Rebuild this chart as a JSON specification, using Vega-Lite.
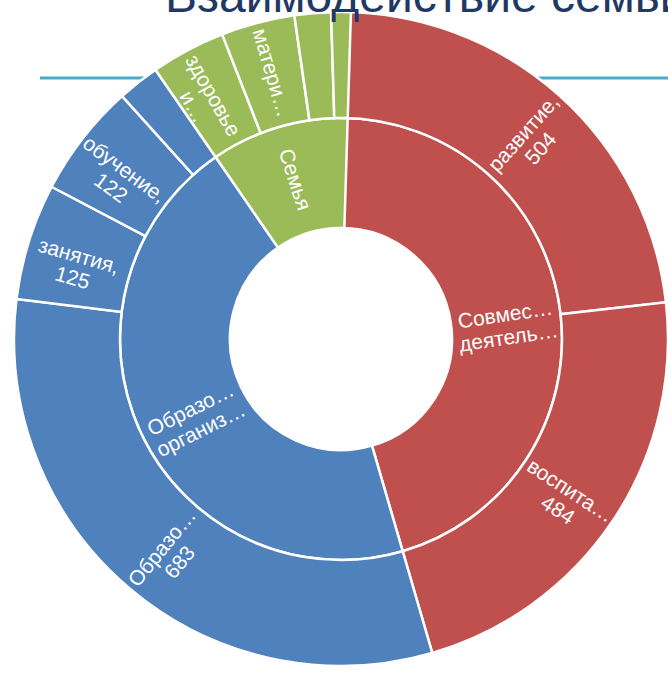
{
  "$schema": "https://vega.github.io/schema/vega-lite/v6.json",
  "width": 654,
  "height": 666,
  "autosize": {"type": "none"},
  "padding": {"left": 14, "top": 6, "right": 0, "bottom": 1},
  "background": "white",
  "title": {
    "text": "Взаимодействие семьи",
    "anchor": "start",
    "frame": "group",
    "dx": 151,
    "dy": -44,
    "fontSize": 48,
    "font": "Liberation Sans",
    "fontWeight": "normal",
    "color": "#1F3864",
    "baseline": "top",
    "offset": -60
  },
  "config": {"view": {"stroke": null}},
  "data": {
    "values": [
      {"group": "Совмес… деятель…", "label": "развитие, 504", "value": 504},
      {"group": "Совмес… деятель…", "label": "воспита… 484", "value": 484},
      {"group": "Образо… организ…", "label": "Образо… 683", "value": 683},
      {"group": "Образо… организ…", "label": "занятия, 125", "value": 125},
      {"group": "Образо… организ…", "label": "обучение, 122", "value": 122},
      {"group": "Образо… организ…", "label": "", "value": 45},
      {"group": "Семья", "label": "здоровье и…", "value": 80},
      {"group": "Семья", "label": "матери…", "value": 79},
      {"group": "Семья", "label": "", "value": 39},
      {"group": "Семья", "label": "", "value": 21}
    ]
  },
  "layer": [
    {
      "data": {"values": [{}]},
      "mark": {"type": "rule", "color": "#4BACC6", "strokeWidth": 3},
      "encoding": {
        "x": {"datum": 26, "type": "quantitative", "scale": {"domain": [0, 654], "nice": false, "zero": false}, "axis": null},
        "x2": {"datum": 654},
        "y": {"datum": 594, "type": "quantitative", "scale": {"domain": [0, 666], "nice": false, "zero": false}, "axis": null}
      }
    },
    {
      "transform": [
        {"aggregate": [{"op": "sum", "field": "value", "as": "value"}], "groupby": ["group"]},
        {"joinaggregate": [{"op": "sum", "field": "value", "as": "total"}]},
        {"stack": "value", "groupby": [], "sort": [{"field": "value", "order": "descending"}], "as": ["t0", "t1"]},
        {"calculate": "(datum.t0 + datum.t1) / 2", "as": "mid"},
        {"calculate": "datum.mid / datum.total * 360 < 180 ? datum.mid / datum.total * 360 - 90 : datum.mid / datum.total * 360 + 90", "as": "ang"}
      ],
      "layer": [
        {
          "mark": {"type": "arc", "innerRadius": 111, "outerRadius": 221, "stroke": "white", "strokeWidth": 2.5},
          "encoding": {
            "theta": {"field": "t0", "type": "quantitative", "stack": null, "scale": {"nice": false, "zero": true}},
            "theta2": {"field": "t1"},
            "color": {
              "field": "group",
              "type": "nominal",
              "scale": {"domain": ["Совмес… деятель…", "Образо… организ…", "Семья"], "range": ["#C0504D", "#4F81BD", "#9BBB59"]},
              "legend": null
            }
          }
        },
        {
          "mark": {"type": "text", "radius": 166, "fill": "white", "fontSize": 21, "font": "Liberation Sans", "lineBreak": " ", "lineHeight": 23, "align": "center", "baseline": "middle"},
          "encoding": {
            "theta": {"field": "mid", "type": "quantitative", "stack": null},
            "angle": {"field": "ang", "type": "quantitative", "scale": null},
            "text": {"field": "group"}
          }
        }
      ]
    },
    {
      "transform": [
        {"joinaggregate": [{"op": "sum", "field": "value", "as": "gtotal"}], "groupby": ["group"]},
        {"joinaggregate": [{"op": "sum", "field": "value", "as": "total"}]},
        {"stack": "value", "groupby": [], "sort": [{"field": "gtotal", "order": "descending"}, {"field": "value", "order": "descending"}], "as": ["t0", "t1"]},
        {"calculate": "(datum.t0 + datum.t1) / 2", "as": "mid"},
        {"calculate": "datum.mid / datum.total * 360 < 180 ? datum.mid / datum.total * 360 - 90 : datum.mid / datum.total * 360 + 90", "as": "ang"}
      ],
      "layer": [
        {
          "mark": {"type": "arc", "innerRadius": 221, "outerRadius": 327, "stroke": "white", "strokeWidth": 2.5},
          "encoding": {
            "theta": {"field": "t0", "type": "quantitative", "stack": null},
            "theta2": {"field": "t1"},
            "color": {"field": "group", "type": "nominal", "legend": null}
          }
        },
        {
          "mark": {"type": "text", "radius": 275, "fill": "white", "fontSize": 21, "font": "Liberation Sans", "lineBreak": " ", "lineHeight": 23, "align": "center", "baseline": "middle"},
          "encoding": {
            "theta": {"field": "mid", "type": "quantitative", "stack": null},
            "angle": {"field": "ang", "type": "quantitative", "scale": null},
            "text": {"field": "label"}
          }
        }
      ]
    }
  ]
}
